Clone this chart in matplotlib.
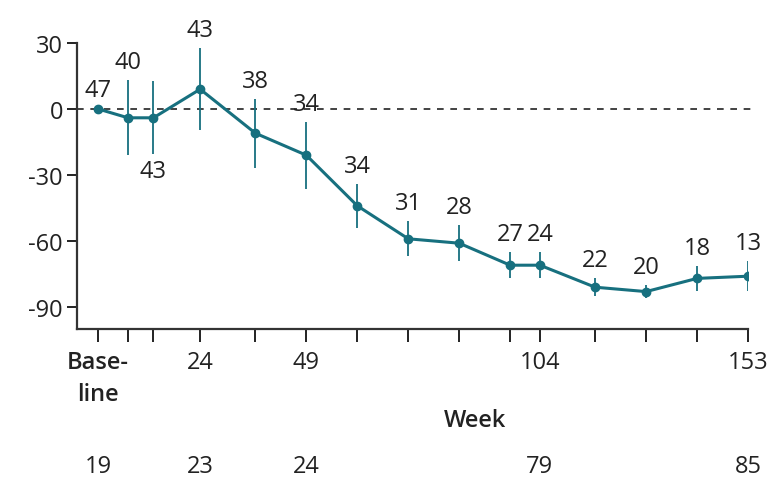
import numpy as np
import matplotlib.pyplot as plt

plt.rcParams['font.family'] = ['Open Sans', 'DejaVu Sans']
plt.rcParams['axes.unicode_minus'] = False

# week of visit, mean change and error half-width
weeks = [0, 7, 13, 24, 37, 49, 61, 73, 85, 97, 104, 117, 129, 141, 153]
change = [0, -4, -4, 9, -11, -21, -44, -59, -61, -71, -71, -81, -83, -77, -76]
err = [0, 17, 16.6, 18.6, 15.7, 15.2, 10, 8, 8.2, 5.9, 5.9, 4.1, 3, 5.7, 6.8]
counts = [47, 40, 43, 43, 38, 34, 34, 31, 28, 27, 24, 22, 20, 18, 13]

tick_weeks = [0, 24, 49, 104, 153]
tick_labels = ['Base-\nline', '24', '49', '104', '153']

# second row of numbers under the axis
row2_weeks = [0, 24, 49, 104, 153]
row2_vals = [19, 23, 24, 79, 85]

color = '#17707f'
fs = 17

fig = plt.figure(figsize=(7.71, 4.89), dpi=100)
ax = fig.add_axes([77 / 771, 1 - 330 / 489, (748 - 77) / 771, (330 - 44) / 489])

ax.axhline(0, xmin=0, xmax=1.006, color='#222222', lw=1.2, ls=(0, (4, 4)), clip_on=False, zorder=1)

ax.errorbar(weeks, change, yerr=err, color=color, lw=2.2, elinewidth=1.3, capsize=0,
            marker='o', markersize=6, zorder=3)

for i, (w, c, e, n) in enumerate(zip(weeks, change, err, counts)):
    if i == 0:
        ax.annotate(str(n), (w, c), xytext=(0, 14), textcoords='offset points',
                    ha='center', va='center', fontsize=fs, color='#222222')
    elif i == 2:
        ax.annotate(str(n), (w, c - e), xytext=(0, -12), textcoords='offset points',
                    ha='center', va='center', fontsize=fs, color='#222222')
    else:
        ax.annotate(str(n), (w, c + e), xytext=(0, 13), textcoords='offset points',
                    ha='center', va='center', fontsize=fs, color='#222222')

ax.set_xlim(-5, 153)
ax.set_ylim(-100, 30)
ax.set_yticks([30, 0, -30, -60, -90])
ax.set_xticks(weeks, minor=True)
ax.set_xticks(tick_weeks)
ax.set_xticklabels(tick_labels, fontsize=fs, linespacing=1.45)
ax.get_xticklabels()[0].set_fontweight('semibold')
ax.tick_params(axis='y', labelsize=fs, length=7, width=1.4, pad=3, colors='#222222')
ax.tick_params(axis='x', which='both', length=9, width=1.4, pad=6, colors='#222222')
ax.tick_params(axis='x', which='major', labelsize=fs)

for s in ['top', 'right']:
    ax.spines[s].set_visible(False)
for s in ['left', 'bottom']:
    ax.spines[s].set_linewidth(1.6)
    ax.spines[s].set_color('#333333')

fig.text(475 / 771, 1 - 421 / 489, 'Week', ha='center', va='center', fontsize=fs,
         fontweight='semibold', color='#222222')

trans = ax.get_xaxis_transform()
for w, v in zip(row2_weeks, row2_vals):
    ax.text(w, -0.48, str(v), transform=trans, ha='center', va='center',
            fontsize=fs, color='#222222', clip_on=False)

fig.savefig('out.png', dpi=100)
